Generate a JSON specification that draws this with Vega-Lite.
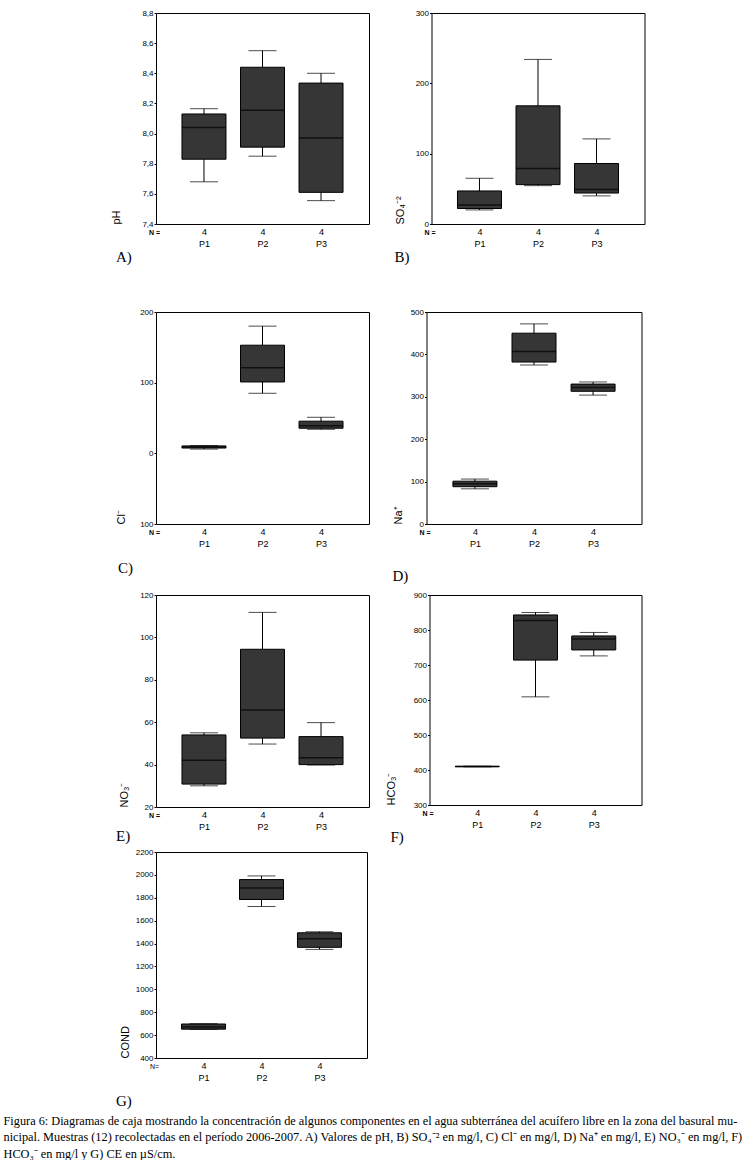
{
  "$schema": "https://vega.github.io/schema/vega-lite/v6.json",
  "background": "white",
  "padding": {"left": 3, "top": 8, "right": 0, "bottom": 0},
  "spacing": 0,
  "title": {
    "text": [
      "Figura 6: Diagramas de caja mostrando la concentración de algunos componentes en el agua subterránea del acuífero libre en la zona del basural mu-",
      "nicipal. Muestras (12) recolectadas en el período 2006-2007. A) Valores de pH, B) SO₄⁻² en mg/l, C) Cl⁻ en mg/l, D)  Na⁺ en mg/l, E) NO₃⁻ en mg/l, F)",
      "HCO₃⁻ en mg/l y G) CE en µS/cm."
    ],
    "orient": "bottom", "anchor": "start", "dx": -106.5, "offset": 5,
    "font": "Liberation Serif", "fontSize": 12.3, "lineHeight": 16.5, "fontWeight": "normal", "color": "black"
  },
  "vconcat": [
    {
      "hconcat": [
        {
          "width": 213, "height": 211,
          "data": {"values": [
            {"site": "P1", "min": 7.68, "q1": 7.83, "median": 8.04, "q3": 8.13, "max": 8.165},
            {"site": "P2", "min": 7.85, "q1": 7.91, "median": 8.155, "q3": 8.44, "max": 8.55},
            {"site": "P3", "min": 7.555, "q1": 7.61, "median": 7.97, "q3": 8.335, "max": 8.4}
          ]},
          "title": {"text": "A)", "orient": "bottom", "anchor": "start", "offset": 2, "dx": 5.5},
          "encoding": {"x": {"field": "site", "type": "nominal", "scale": {"type": "point", "padding": 0.82},
            "axis": {"title": "N =", "titleX": -2, "titleY": 8, "titleAlign": "center", "titleAngle": 0, "titleBaseline": "middle", "labelExpr": "['4', datum.label]"}}},
          "layer": [
            {"mark": {"type": "rule", "color": "black"}, "encoding": {"y": {"field": "min", "type": "quantitative", "title": "pH", "scale": {"domain": [7.4, 8.8], "nice": false, "zero": false},
              "axis": {"values": [7.4, 7.6, 7.8, 8.0, 8.2, 8.4, 8.6, 8.8], "tickCount": 20, "labelOverlap": false, "labelExpr": "replace(format(datum.value, '.1f'), '.', ',')", "titlePadding": 12.5}}, "y2": {"field": "max"}}},
            {"mark": {"type": "tick", "color": "black", "size": 28, "thickness": 1}, "encoding": {"y": {"field": "min", "type": "quantitative", "title": "pH"}}},
            {"mark": {"type": "tick", "color": "black", "size": 28, "thickness": 1}, "encoding": {"y": {"field": "max", "type": "quantitative", "title": "pH"}}},
            {"mark": {"type": "bar", "size": 44, "fill": "#363636", "stroke": "black", "strokeWidth": 1}, "encoding": {"y": {"field": "q1", "type": "quantitative", "title": "pH"}, "y2": {"field": "q3"}}},
            {"mark": {"type": "tick", "color": "black", "size": 44, "thickness": 1.5}, "encoding": {"y": {"field": "median", "type": "quantitative", "title": "pH"}}}
          ]
        },
        {
          "width": 213, "height": 211,
          "data": {"values": [
            {"site": "P1", "min": 20, "q1": 22, "median": 27, "q3": 47, "max": 65},
            {"site": "P2", "min": 54.5, "q1": 56, "median": 79, "q3": 168, "max": 234},
            {"site": "P3", "min": 40, "q1": 44, "median": 49, "q3": 86, "max": 121}
          ]},
          "title": {"text": "B)", "orient": "bottom", "anchor": "start", "offset": 2, "dx": 0.5},
          "encoding": {"x": {"field": "site", "type": "nominal", "scale": {"type": "point", "padding": 0.82},
            "axis": {"title": "N =", "titleX": -2, "titleY": 8, "titleAlign": "center", "titleAngle": 0, "titleBaseline": "middle", "labelExpr": "['4', datum.label]"}}},
          "layer": [
            {"mark": {"type": "rule", "color": "black"}, "encoding": {"y": {"field": "min", "type": "quantitative", "title": "SO₄⁻²", "scale": {"domain": [0, 300], "nice": false, "zero": false},
              "axis": {"values": [0, 100, 200, 300], "tickCount": 20, "labelOverlap": false, "format": "d", "titlePadding": 4.5}}, "y2": {"field": "max"}}},
            {"mark": {"type": "tick", "color": "black", "size": 28, "thickness": 1}, "encoding": {"y": {"field": "min", "type": "quantitative", "title": "SO₄⁻²"}}},
            {"mark": {"type": "tick", "color": "black", "size": 28, "thickness": 1}, "encoding": {"y": {"field": "max", "type": "quantitative", "title": "SO₄⁻²"}}},
            {"mark": {"type": "bar", "size": 44, "fill": "#363636", "stroke": "black", "strokeWidth": 1}, "encoding": {"y": {"field": "q1", "type": "quantitative", "title": "SO₄⁻²"}, "y2": {"field": "q3"}}},
            {"mark": {"type": "tick", "color": "black", "size": 44, "thickness": 1.5}, "encoding": {"y": {"field": "median", "type": "quantitative", "title": "SO₄⁻²"}}}
          ]
        }
      ],
      "spacing": 23.5
    },
    {"width": 1, "height": 41, "data": {"values": []}, "mark": "point", "encoding": {}, "view": {"stroke": null}},
    {
      "hconcat": [
        {
          "width": 213, "height": 212,
          "data": {"values": [
            {"site": "P1", "min": 6, "q1": 7.5, "median": 9, "q3": 10.5, "max": 11},
            {"site": "P2", "min": 85, "q1": 101, "median": 121, "q3": 153, "max": 180},
            {"site": "P3", "min": 34, "q1": 35.5, "median": 39, "q3": 45.5, "max": 51}
          ]},
          "title": {"text": "C)", "orient": "bottom", "anchor": "start", "offset": 13, "dx": 2.5},
          "encoding": {"x": {"field": "site", "type": "nominal", "scale": {"type": "point", "padding": 0.82},
            "axis": {"title": "N =", "titleX": -2, "titleY": 8, "titleAlign": "center", "titleAngle": 0, "titleBaseline": "middle", "labelExpr": "['4', datum.label]"}}},
          "layer": [
            {"mark": {"type": "rule", "color": "black"}, "encoding": {"y": {"field": "min", "type": "quantitative", "title": "Cl⁻", "scale": {"domain": [-100, 200], "nice": false, "zero": false},
              "axis": {"values": [-100, 0, 100, 200], "tickCount": 20, "labelOverlap": false, "labelExpr": "format(abs(datum.value), 'd')", "titlePadding": 7.5}}, "y2": {"field": "max"}}},
            {"mark": {"type": "tick", "color": "black", "size": 28, "thickness": 1}, "encoding": {"y": {"field": "min", "type": "quantitative", "title": "Cl⁻"}}},
            {"mark": {"type": "tick", "color": "black", "size": 28, "thickness": 1}, "encoding": {"y": {"field": "max", "type": "quantitative", "title": "Cl⁻"}}},
            {"mark": {"type": "bar", "size": 44, "fill": "#363636", "stroke": "black", "strokeWidth": 1}, "encoding": {"y": {"field": "q1", "type": "quantitative", "title": "Cl⁻"}, "y2": {"field": "q3"}}},
            {"mark": {"type": "tick", "color": "black", "size": 44, "thickness": 1.5}, "encoding": {"y": {"field": "median", "type": "quantitative", "title": "Cl⁻"}}}
          ]
        },
        {
          "width": 215, "height": 212,
          "data": {"values": [
            {"site": "P1", "min": 83, "q1": 88, "median": 95, "q3": 101, "max": 106},
            {"site": "P2", "min": 375, "q1": 382, "median": 407, "q3": 450, "max": 472},
            {"site": "P3", "min": 304, "q1": 313, "median": 322, "q3": 330, "max": 335}
          ]},
          "title": {"text": "D)", "orient": "bottom", "anchor": "start", "offset": 21, "dx": 0.5},
          "encoding": {"x": {"field": "site", "type": "nominal", "scale": {"type": "point", "padding": 0.82},
            "axis": {"title": "N =", "titleX": -2, "titleY": 8, "titleAlign": "center", "titleAngle": 0, "titleBaseline": "middle", "labelExpr": "['4', datum.label]"}}},
          "layer": [
            {"mark": {"type": "rule", "color": "black"}, "encoding": {"y": {"field": "min", "type": "quantitative", "title": "Na⁺", "scale": {"domain": [0, 500], "nice": false, "zero": false},
              "axis": {"values": [0, 100, 200, 300, 400, 500], "tickCount": 20, "labelOverlap": false, "format": "d", "titlePadding": 1.5}}, "y2": {"field": "max"}}},
            {"mark": {"type": "tick", "color": "black", "size": 28, "thickness": 1}, "encoding": {"y": {"field": "min", "type": "quantitative", "title": "Na⁺"}}},
            {"mark": {"type": "tick", "color": "black", "size": 28, "thickness": 1}, "encoding": {"y": {"field": "max", "type": "quantitative", "title": "Na⁺"}}},
            {"mark": {"type": "bar", "size": 44, "fill": "#363636", "stroke": "black", "strokeWidth": 1}, "encoding": {"y": {"field": "q1", "type": "quantitative", "title": "Na⁺"}, "y2": {"field": "q3"}}},
            {"mark": {"type": "tick", "color": "black", "size": 44, "thickness": 1.5}, "encoding": {"y": {"field": "median", "type": "quantitative", "title": "Na⁺"}}}
          ]
        }
      ],
      "spacing": 21.5
    },
    {"width": 1, "height": 5, "data": {"values": []}, "mark": "point", "encoding": {}, "view": {"stroke": null}},
    {
      "hconcat": [
        {
          "width": 213, "height": 212,
          "data": {"values": [
            {"site": "P1", "min": 30, "q1": 30.8, "median": 42.1, "q3": 54, "max": 55},
            {"site": "P2", "min": 49.7, "q1": 52.5, "median": 65.8, "q3": 94.4, "max": 111.8},
            {"site": "P3", "min": 39.8, "q1": 40, "median": 43.2, "q3": 53.2, "max": 59.8}
          ]},
          "title": {"text": "E)", "orient": "bottom", "anchor": "start", "offset": -2, "dx": -2.5},
          "encoding": {"x": {"field": "site", "type": "nominal", "scale": {"type": "point", "padding": 0.82},
            "axis": {"title": "N =", "titleX": -2, "titleY": 8, "titleAlign": "center", "titleAngle": 0, "titleBaseline": "middle", "labelExpr": "['4', datum.label]"}}},
          "layer": [
            {"mark": {"type": "rule", "color": "black"}, "encoding": {"y": {"field": "min", "type": "quantitative", "title": "NO₃⁻", "scale": {"domain": [20, 120], "nice": false, "zero": false},
              "axis": {"values": [20, 40, 60, 80, 100, 120], "tickCount": 20, "labelOverlap": false, "format": "d", "titlePadding": 4.5}}, "y2": {"field": "max"}}},
            {"mark": {"type": "tick", "color": "black", "size": 28, "thickness": 1}, "encoding": {"y": {"field": "min", "type": "quantitative", "title": "NO₃⁻"}}},
            {"mark": {"type": "tick", "color": "black", "size": 28, "thickness": 1}, "encoding": {"y": {"field": "max", "type": "quantitative", "title": "NO₃⁻"}}},
            {"mark": {"type": "bar", "size": 44, "fill": "#363636", "stroke": "black", "strokeWidth": 1}, "encoding": {"y": {"field": "q1", "type": "quantitative", "title": "NO₃⁻"}, "y2": {"field": "q3"}}},
            {"mark": {"type": "tick", "color": "black", "size": 44, "thickness": 1.5}, "encoding": {"y": {"field": "median", "type": "quantitative", "title": "NO₃⁻"}}}
          ]
        },
        {
          "width": 212, "height": 210,
          "data": {"values": [
            {"site": "P1", "min": 409, "q1": 409.5, "median": 410, "q3": 410.5, "max": 411},
            {"site": "P2", "min": 609, "q1": 714, "median": 827, "q3": 843, "max": 850},
            {"site": "P3", "min": 726, "q1": 743, "median": 774, "q3": 783, "max": 793}
          ]},
          "title": {"text": "F)", "orient": "bottom", "anchor": "start", "offset": 1, "dx": 5.5},
          "encoding": {"x": {"field": "site", "type": "nominal", "scale": {"type": "point", "padding": 0.82},
            "axis": {"title": "N =", "titleX": -2, "titleY": 8, "titleAlign": "center", "titleAngle": 0, "titleBaseline": "middle", "labelExpr": "['4', datum.label]"}}},
          "layer": [
            {"mark": {"type": "rule", "color": "black"}, "encoding": {"y": {"field": "min", "type": "quantitative", "title": "HCO₃⁻", "scale": {"domain": [300, 900], "nice": false, "zero": false},
              "axis": {"values": [300, 400, 500, 600, 700, 800, 900], "tickCount": 20, "labelOverlap": false, "format": "d", "titlePadding": 11.5}}, "y2": {"field": "max"}}},
            {"mark": {"type": "tick", "color": "black", "size": 28, "thickness": 1}, "encoding": {"y": {"field": "min", "type": "quantitative", "title": "HCO₃⁻"}}},
            {"mark": {"type": "tick", "color": "black", "size": 28, "thickness": 1}, "encoding": {"y": {"field": "max", "type": "quantitative", "title": "HCO₃⁻"}}},
            {"mark": {"type": "bar", "size": 44, "fill": "#363636", "stroke": "black", "strokeWidth": 1}, "encoding": {"y": {"field": "q1", "type": "quantitative", "title": "HCO₃⁻"}, "y2": {"field": "q3"}}},
            {"mark": {"type": "tick", "color": "black", "size": 44, "thickness": 1.5}, "encoding": {"y": {"field": "median", "type": "quantitative", "title": "HCO₃⁻"}}}
          ]
        }
      ],
      "spacing": 14.5
    },
    {"width": 1, "height": 1, "data": {"values": []}, "mark": "point", "encoding": {}, "view": {"stroke": null}},
    {
      "width": 211, "height": 206,
      "data": {"values": [
        {"site": "P1", "min": 650, "q1": 652, "median": 670, "q3": 697, "max": 700},
        {"site": "P2", "min": 1724, "q1": 1785, "median": 1886, "q3": 1959, "max": 1991},
        {"site": "P3", "min": 1349, "q1": 1367, "median": 1442, "q3": 1494, "max": 1503}
      ]},
      "title": {"text": "G)", "orient": "bottom", "anchor": "start", "offset": 12, "dx": -3.5},
      "encoding": {"x": {"field": "site", "type": "nominal", "scale": {"type": "point", "padding": 0.82},
        "axis": {"title": "N=", "titleX": -2, "titleY": 8, "titleAlign": "center", "titleAngle": 0, "titleBaseline": "middle", "titleFontWeight": "normal", "labelExpr": "['4', datum.label]"}}},
      "layer": [
        {"mark": {"type": "rule", "color": "black"}, "encoding": {"y": {"field": "min", "type": "quantitative", "title": "COND", "scale": {"domain": [400, 2200], "nice": false, "zero": false},
          "axis": {"values": [400, 600, 800, 1000, 1200, 1400, 1600, 1800, 2000, 2200], "tickCount": 20, "labelOverlap": false, "format": "d", "titlePadding": 3.5}}, "y2": {"field": "max"}}},
        {"mark": {"type": "tick", "color": "black", "size": 28, "thickness": 1}, "encoding": {"y": {"field": "min", "type": "quantitative", "title": "COND"}}},
        {"mark": {"type": "tick", "color": "black", "size": 28, "thickness": 1}, "encoding": {"y": {"field": "max", "type": "quantitative", "title": "COND"}}},
        {"mark": {"type": "bar", "size": 44, "fill": "#363636", "stroke": "black", "strokeWidth": 1}, "encoding": {"y": {"field": "q1", "type": "quantitative", "title": "COND"}, "y2": {"field": "q3"}}},
        {"mark": {"type": "tick", "color": "black", "size": 44, "thickness": 1.5}, "encoding": {"y": {"field": "median", "type": "quantitative", "title": "COND"}}}
      ]
    }
  ],
  "config": {
    "view": {"stroke": "black", "strokeWidth": 1},
    "font": "Liberation Sans",
    "axis": {"labelColor": "black", "titleColor": "black", "tickColor": "black", "domainColor": "black", "grid": false, "labelFont": "Liberation Sans", "titleFont": "Liberation Sans", "titleFontWeight": "normal"},
    "axisY": {"tickSize": 2, "labelPadding": 1, "labelFontSize": 8, "titleFontSize": 11, "titleAnchor": "start", "minExtent": 22, "maxExtent": 22, "domain": false},
    "axisX": {"ticks": false, "tickSize": 0, "domain": false, "labelAngle": 0, "labelPadding": 3, "labelFontSize": 9, "labelLineHeight": 12, "titleFontSize": 7, "titleFontWeight": "bold"},
    "title": {"font": "Liberation Serif", "fontSize": 15, "fontWeight": "normal", "color": "black", "anchor": "start"}
  }
}
